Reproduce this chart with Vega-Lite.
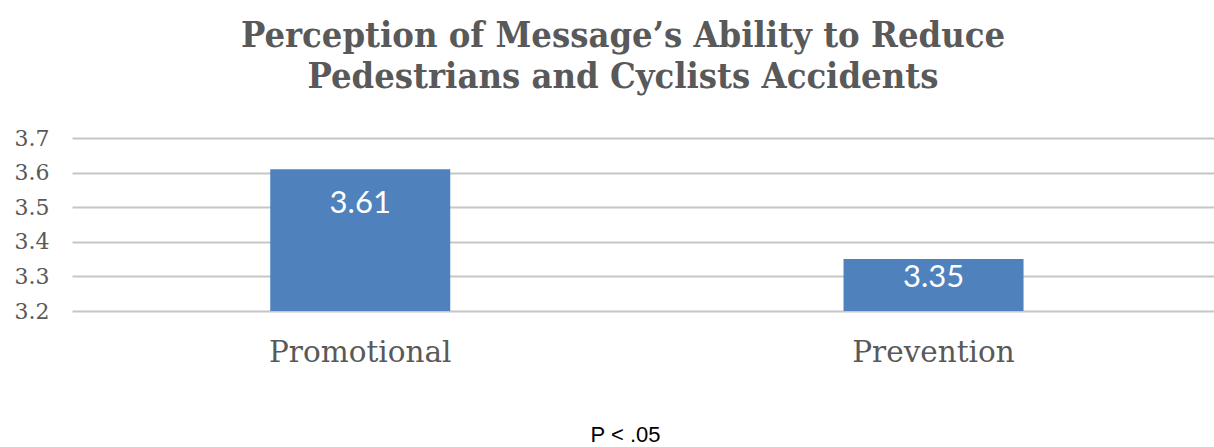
{
  "$schema": "https://vega.github.io/schema/vega-lite/v6.json",
  "autosize": "none",
  "width": 1142,
  "height": 173,
  "padding": {"left": 72, "top": 138, "right": 0, "bottom": 136},
  "background": "white",
  "title": {
    "text": ["Perception of Message’s Ability to Reduce", "Pedestrians and Cyclists Accidents"],
    "font": "DejaVu Serif Condensed",
    "fontSize": 36,
    "fontWeight": "bold",
    "color": "#595959",
    "lineHeight": 41,
    "anchor": "middle",
    "dx": -20,
    "offset": 31
  },
  "data": {
    "values": [
      {"message": "Promotional", "score": 3.61},
      {"message": "Prevention", "score": 3.35}
    ]
  },
  "encoding": {
    "x": {
      "field": "message",
      "type": "nominal",
      "sort": null,
      "scale": {"paddingInner": 0.686, "paddingOuter": 0.339, "align": 0.51},
      "axis": {
        "title": "P < .05",
        "titleFont": "Liberation Sans",
        "titleFontSize": 22,
        "titleFontWeight": "normal",
        "titleColor": "#000000",
        "titlePadding": 58,
        "titleX": 553,
        "labelAngle": 0,
        "labelLimit": 0,
        "labelFont": "DejaVu Serif",
        "labelFontSize": 29.5,
        "labelColor": "#595959",
        "labelPadding": 27,
        "domain": false,
        "ticks": false
      }
    },
    "y": {
      "field": "score",
      "type": "quantitative",
      "scale": {"domain": [3.2, 3.7], "zero": false, "nice": false},
      "axis": {
        "title": null,
        "values": [3.2, 3.3, 3.4, 3.5, 3.6, 3.7],
        "format": ".1f",
        "labelOverlap": false,
        "labelFont": "DejaVu Serif",
        "labelFontSize": 22,
        "labelColor": "#595959",
        "labelPadding": 23,
        "domain": false,
        "ticks": false,
        "grid": true,
        "gridColor": "#c6c6c6",
        "gridWidth": 2
      }
    }
  },
  "layer": [
    {
      "mark": {"type": "bar", "color": "#4F81BD", "clip": true}
    },
    {
      "transform": [{"filter": "datum.message === 'Promotional'"}],
      "mark": {"type": "text", "color": "white", "font": "Lato", "fontSize": 31, "baseline": "top", "dy": 20},
      "encoding": {
        "text": {"field": "score", "type": "quantitative", "format": ".2f"}
      }
    },
    {
      "transform": [{"filter": "datum.message === 'Prevention'"}],
      "mark": {"type": "text", "color": "white", "font": "Lato", "fontSize": 31, "baseline": "top", "dy": 4},
      "encoding": {
        "text": {"field": "score", "type": "quantitative", "format": ".2f"}
      }
    }
  ],
  "config": {"view": {"stroke": null}}
}
